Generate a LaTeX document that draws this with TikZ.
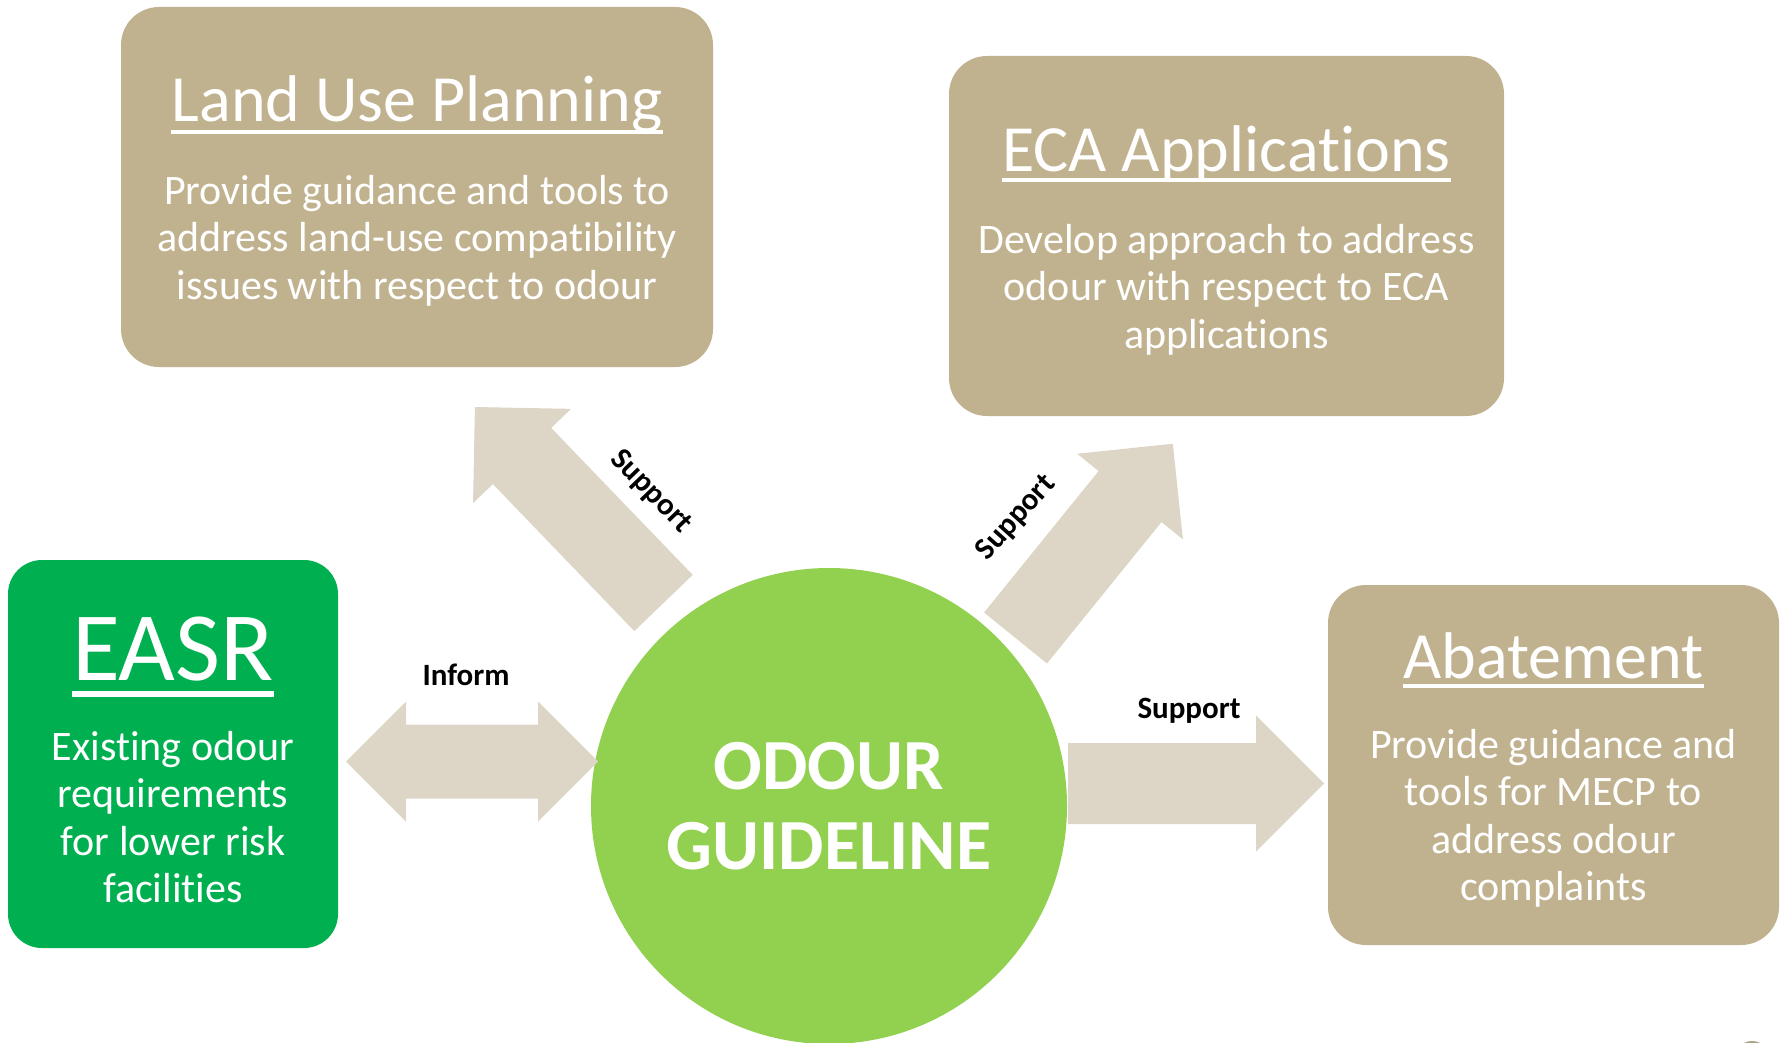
\documentclass[tikz,border=0pt]{standalone}
\usepackage{fontspec}
\setmainfont{Carlito}[Ligatures=NoCommon]
\definecolor{boxtan}{HTML}{C1B28F}
\definecolor{arrowtan}{HTML}{DDD6C6}
\definecolor{easrgreen}{HTML}{00B050}
\definecolor{hubgreen}{HTML}{92D050}

% block arrow: tail point, direction angle, total length
\newcommand\blockarrow[3]{%
  \fill[arrowtan, shift={#1}, rotate=#2]
    (0,-40.5) -- ({#3-68},-40.5) -- ({#3-68},-68) -- (#3,0)
    -- ({#3-68},68) -- ({#3-68},40.5) -- (0,40.5) -- cycle;}

\begin{document}
\begin{tikzpicture}[x=1pt, y=-1pt,
  tanbox/.style={fill=boxtan, rounded corners=38pt, inner sep=0pt},
  greenbox/.style={fill=easrgreen, rounded corners=34pt, inner sep=0pt},
  title/.style={text=white, inner sep=0pt, font=\fontsize{66}{74}\selectfont},
  body/.style={text=white, inner sep=0pt, align=center, font=\fontsize{42}{47.5}\selectfont},
  uline/.style={white, line width=4pt},
  lbl/.style={inner sep=0pt, font=\fontsize{31}{36}\selectfont\bfseries}]

\useasboundingbox (0,0) rectangle (1787,1043);

% boxes
\node[tanbox, minimum width=592pt, minimum height=360pt] (land) at (417,187) {};
\node[tanbox, minimum width=555pt, minimum height=360pt] (eca) at (1226.5,236) {};
\node[greenbox, minimum width=330pt, minimum height=388pt] (easr) at (173,754) {};
\node[tanbox, minimum width=451pt, minimum height=360pt] (abate) at (1553.5,765) {};

% partly visible shape at the lower edge
\begin{scope}
  \clip (0,0) rectangle (1787,1043);
  \fill[boxtan!70!gray] (1752,1058) ellipse [x radius=17, y radius=17];
\end{scope}

% hub circle
\node[circle, fill=hubgreen, minimum size=476pt, inner sep=0pt] (hub) at (829,806) {};
\node[text=white, align=center, inner sep=0pt,
      font=\fontsize{72}{80}\selectfont\bfseries] (hubtext) at (829,806) {ODOUR\\GUIDELINE};

% connectors
\coordinate (ulTail) at (663.5,603);
\coordinate (urTail) at (1015.5,638);
\coordinate (rTail) at (1068,783.5);
\blockarrow{(ulTail)}{133.9}{272}
\blockarrow{(urTail)}{51}{250}
\blockarrow{(rTail)}{0}{256}
\coordinate (dL) at (346,761.5);
\coordinate (dR) at (598,761.5);
\fill[arrowtan] (dL) -- ++(60,-60) -- ++(0,23) -- (538,724.5) -- ++(0,-23)
  -- (dR) -- ++(-60,60) -- ++(0,-23) -- (406,798.5) -- ++(0,23) -- cycle;

% connector labels
\node[lbl] (informL) at (466,675) {Inform};
\node[lbl, rotate=-46] (supUL) at (651,492) {Support};
\node[lbl, rotate=48] (supUR) at (1016,518) {Support};
\node[lbl] (supR) at (1189,711) {Support};

% Land Use Planning
\node[title, anchor=base] (landT) at (417,122) {Land Use Planning};
\draw[uline] ([yshift=-10pt]landT.base west) -- ([yshift=-10pt]landT.base east);
\node[body] (landB) at (417,240.5) {Provide guidance and tools to\\address land-use compatibility\\issues with respect to odour};

% ECA Applications
\node[title, anchor=base] (ecaT) at (1226.5,172) {ECA Applications};
\draw[uline] ([yshift=-8pt]ecaT.base west) -- ([yshift=-8pt]ecaT.base east);
\node[body] (ecaB) at (1226.5,289.5) {Develop approach to address\\odour with respect to ECA\\applications};

% Abatement
\node[title, anchor=base] (abateT) at (1553.5,678) {Abatement};
\draw[uline] ([yshift=-8pt]abateT.base west) -- ([yshift=-8pt]abateT.base east);
\node[body] (abateB) at (1553.5,818.5) {Provide guidance and\\tools for MECP to\\address odour\\complaints};

% EASR
\node[title, anchor=base, font=\fontsize{98}{110}\selectfont] (easrT) at (173,680) {EASR};
\draw[uline, line width=6pt] ([yshift=-14pt]easrT.base west) -- ([yshift=-14pt]easrT.base east);
\node[body] (easrB) at (173,817) {Existing odour\\requirements\\for lower risk\\facilities};

\end{tikzpicture}
\end{document}
